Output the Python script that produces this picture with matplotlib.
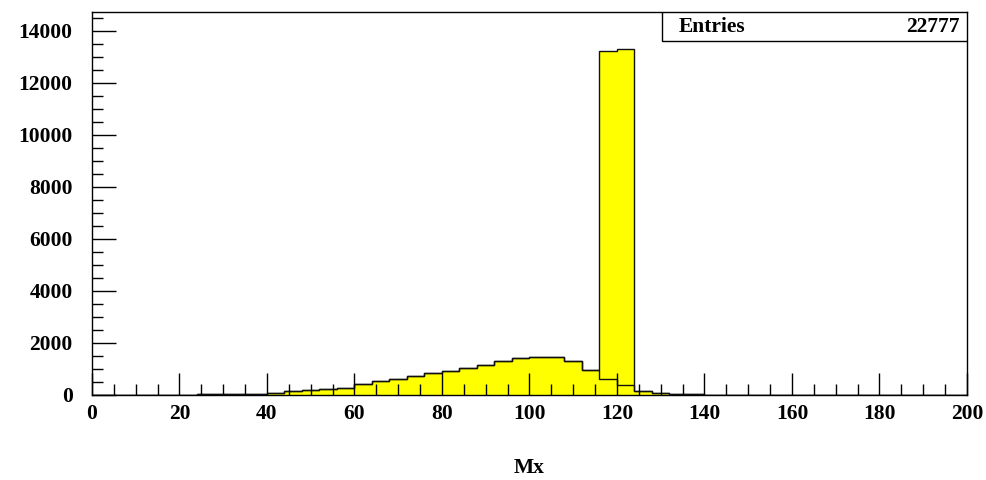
import numpy as np
import matplotlib
matplotlib.use("Agg")
import matplotlib.pyplot as plt
from matplotlib.patches import Rectangle
from matplotlib.ticker import MultipleLocator

# Mx histogram, 50 bins of width 4 between 0 and 200
bin_edges = np.arange(0, 204, 4)

# counts of the filled histogram (with the peak at 116-124)
counts_filled = [0, 0, 0, 0, 0, 0, 8, 12, 18, 35,
                 70, 120, 165, 215, 255, 398, 535, 590, 731, 830,
                 924, 1027, 1129, 1300, 1399, 1463, 1437, 1309, 935, 13240,
                 13310, 120, 45, 18, 5, 0, 0, 0, 0, 0,
                 0, 0, 0, 0, 0, 0, 0, 0, 0, 0]

# counts of the outlined histogram drawn on top
counts_line = [0, 0, 0, 0, 0, 0, 8, 12, 18, 35,
               70, 120, 165, 215, 255, 398, 535, 590, 731, 830,
               924, 1027, 1129, 1300, 1399, 1463, 1437, 1309, 935, 610,
               370, 120, 45, 18, 5, 0, 0, 0, 0, 0,
               0, 0, 0, 0, 0, 0, 0, 0, 0, 0]

n_entries = 22777

plt.rcParams['font.family'] = ['Liberation Serif', 'DejaVu Serif']
plt.rcParams['font.weight'] = 'bold'
fs = 15.5

fig = plt.figure(figsize=(9.87, 4.80), dpi=100)
ax = fig.add_axes([0.0932, 0.178, 0.8865, 0.797])

ax.stairs(counts_filled, bin_edges, fill=True, color='#ffff00', lw=0)
ax.stairs(counts_filled, bin_edges, color='#111111', lw=1.0)
ax.stairs(counts_line, bin_edges, color='#111111', lw=1.0)

ax.set_xlim(0, 200)
ax.set_ylim(0, 14730)

ax.xaxis.set_major_locator(MultipleLocator(20))
ax.xaxis.set_minor_locator(MultipleLocator(5))
ax.yaxis.set_major_locator(MultipleLocator(2000))
ax.yaxis.set_minor_locator(MultipleLocator(500))
ax.tick_params(axis='both', which='both', direction='in', width=1.0,
               top=False, right=False, labelsize=fs)
ax.tick_params(axis='x', which='major', length=16, pad=7)
ax.tick_params(axis='x', which='minor', length=8)
ax.tick_params(axis='y', which='major', length=17, pad=14)
ax.tick_params(axis='y', which='minor', length=8)
for lab in ax.get_xticklabels() + ax.get_yticklabels():
    lab.set_fontweight('bold')
for sp in ax.spines.values():
    sp.set_linewidth(1.0)

ax.set_xlabel("Mx", fontsize=fs, fontweight='bold', labelpad=24)

# stats box
box = Rectangle((0.651, 0.924), 0.349, 0.076, transform=ax.transAxes,
                facecolor='white', edgecolor='black', lw=1.0, zorder=5)
ax.add_patch(box)
ax.text(0.670, 0.962, "Entries", transform=ax.transAxes, ha='left',
        va='center', fontsize=fs, fontweight='bold', zorder=6)
ax.text(0.992, 0.962, str(n_entries), transform=ax.transAxes, ha='right',
        va='center', fontsize=fs, fontweight='bold', zorder=6)

fig.savefig("out.png", dpi=100)
